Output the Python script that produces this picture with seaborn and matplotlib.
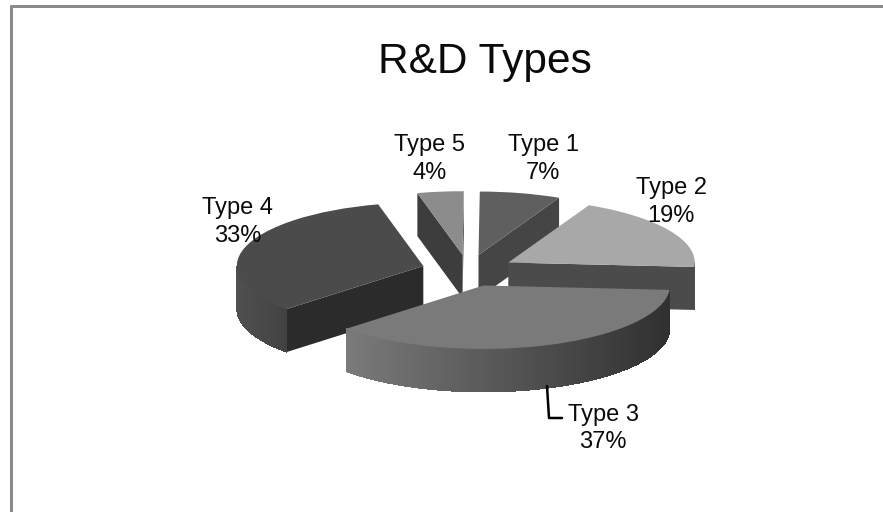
import numpy as np
import seaborn as sns
import matplotlib
matplotlib.use("Agg")
import matplotlib.pyplot as plt
from matplotlib.collections import PolyCollection
from matplotlib.lines import Line2D

# Share of R&D spending by type
categories = ["Type 1", "Type 2", "Type 3", "Type 4", "Type 5"]
shares = [7, 19, 37, 33, 4]

# Greys per slice: top face, radial wall, rim shade at the left and right of the rim
top_colors = ["#5f5f5f", "#a8a8a8", "#7a7a7a", "#4b4b4b", "#8c8c8c"]
wall_colors = ["#454545", "#4b4b4b", "#3a3a3a", "#2b2b2b", "#3d3d3d"]
rim_left = ["#444444", "#4b4b4b", "#7a7a7a", "#505050", "#3d3d3d"]
rim_right = ["#444444", "#4b4b4b", "#303030", "#424242", "#3d3d3d"]
# Painter's order, back to front
draw_order = [4, 0, 3, 1, 2]

label_pos = [(543, 159), (671, 202), (603, 428.5), (238, 222), (430, 159)]

W, H = 883, 512
CX, CY = 468.0, 270.5   # pie centre, px
RX, RY = 186.5, 63.5    # ellipse semi-axes, px
DEPTH = 43.0 / RY       # extrusion, in units of the vertical radius
EXPLODE = 0.25

sns.set_theme(style="white", rc={"font.family": ["Liberation Sans", "DejaVu Sans"]})

fig = plt.figure(figsize=(W / 100, H / 100), dpi=100, facecolor="white")
ax = fig.add_axes([0, 0, 1, 1])

wedges, _ = ax.pie(shares, explode=[EXPLODE] * len(shares), startangle=89.6,
                   counterclock=False, radius=1.0,
                   colors=top_colors, wedgeprops={"linewidth": 0})
ax.set_aspect("auto")
ax.set_xlim(-CX / RX, (W - CX) / RX)
ax.set_ylim((CY - H) / RY, CY / RY)
ax.set_axis_off()


def to_rgb(c):
    return np.array(matplotlib.colors.to_rgb(c))


for rank, i in enumerate(draw_order):
    w = wedges[i]
    cx, cy = w.center
    t1, t2 = np.radians(w.theta1), np.radians(w.theta2)
    base_z = 2 + rank * 2
    w.set_zorder(base_z + 1)

    # Radial walls: only those whose outward normal points toward the viewer
    for t, side in ((t1, -1), (t2, 1)):
        if np.cos(t) * side > 0:
            continue
        px, py = cx + np.cos(t), cy + np.sin(t)
        quad = [(cx, cy), (px, py), (px, py - DEPTH), (cx, cy - DEPTH)]
        ax.add_collection(PolyCollection([quad], facecolors=wall_colors[i],
                                         edgecolors="none", zorder=base_z))

    # Rim: the part of the arc on the lower half of the ellipse, shaded left to right
    edges = np.linspace(t1, t2, 240)
    mids = (edges[:-1] + edges[1:]) / 2
    keep = np.sin(mids) < 0
    if keep.any():
        span = np.cos(mids[keep])
        lo, hi = span.min(), span.max()
        quads, shades = [], []
        for a, b in zip(edges[:-1][keep], edges[1:][keep]):
            xa, ya = cx + np.cos(a), cy + np.sin(a)
            xb, yb = cx + np.cos(b), cy + np.sin(b)
            quads.append([(xa, ya), (xb, yb), (xb, yb - DEPTH), (xa, ya - DEPTH)])
            f = (np.cos((a + b) / 2) - lo) / max(hi - lo, 1e-6)
            shades.append((1 - f) * to_rgb(rim_left[i]) + f * to_rgb(rim_right[i]))
        ax.add_collection(PolyCollection(quads, facecolors=shades, edgecolors="none",
                                         antialiaseds=False, zorder=base_z))

ink = "#0a0a0a"
for name, share, (x, y) in zip(categories, shares, label_pos):
    fig.text(x / W, 1 - y / H, f"{name}\n{share}%", ha="center", va="center",
             fontsize=17, color=ink, linespacing=1.3, zorder=30)

fig.text(485 / W, 1 - 73 / H, "R&D Types", ha="center", va="baseline",
         fontsize=30.5, color=ink, zorder=30)

# Leader line for the Type 3 label
fig.add_artist(Line2D(np.array([547, 549, 562]) / W, 1 - np.array([386, 418, 418]) / H,
                      color="black", lw=1.8, zorder=25))

# Chart border, open at the bottom
border = "#8a8a8a"
fig.add_artist(Line2D(np.array([10.5, 10.5]) / W, 1 - np.array([512, 5]) / H,
                      color=border, lw=2.16, solid_capstyle="butt"))
fig.add_artist(Line2D(np.array([10, 883]) / W, 1 - np.array([5.5, 5.5]) / H,
                      color=border, lw=2.16, solid_capstyle="butt"))

fig.savefig("out.png", dpi=100, facecolor="white")
